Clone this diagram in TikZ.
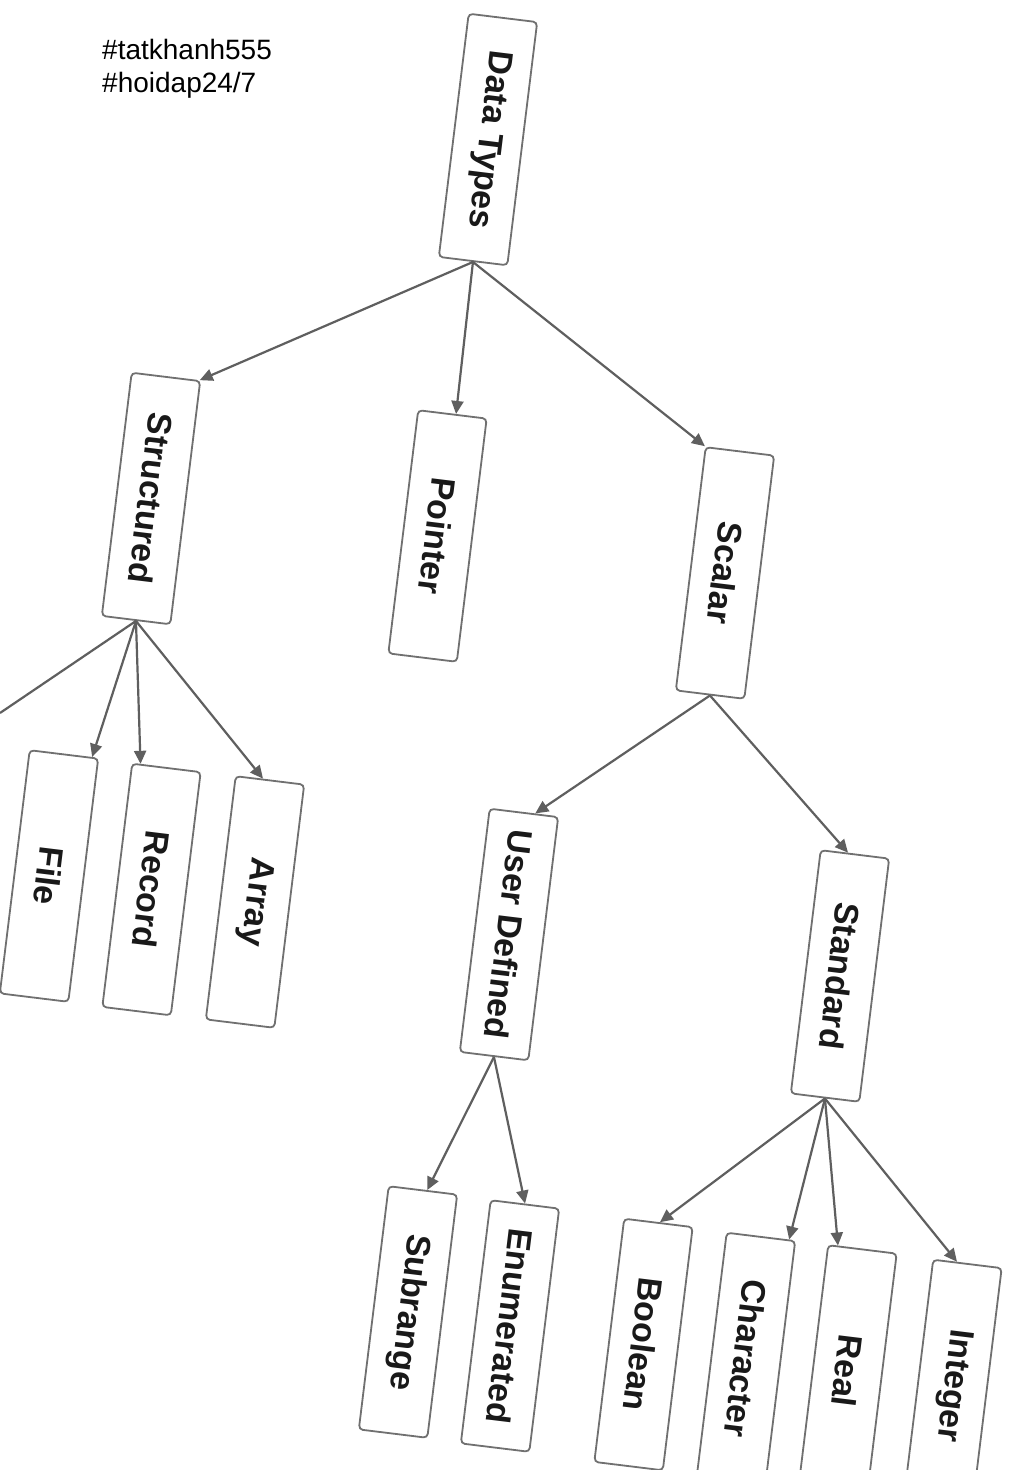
\documentclass[tikz,border=0pt]{standalone}
\usepackage{fontspec}
\setmainfont{Liberation Sans}
\usetikzlibrary{arrows.meta,calc}
\definecolor{boxgray}{RGB}{112,112,112}
\definecolor{linkgray}{RGB}{95,95,95}
\definecolor{txt}{RGB}{25,25,25}
\begin{document}
\begin{tikzpicture}[x=1pt,y=-1pt,
  box/.style={draw=boxgray, line width=1.8pt, rounded corners=4pt, fill=white,
    rotate=-97, minimum width=245pt, minimum height=69pt, inner sep=0pt,
    font=\fontsize{34}{40}\selectfont\bfseries, text=txt},
  link/.style={draw=linkgray, line width=2.2pt, -{Triangle[length=13pt,width=12pt]}},
  plain/.style={draw=linkgray, line width=2.2pt},
  tag/.style={anchor=base west, inner sep=0pt, font=\fontsize{28}{34}\selectfont, text=black}]
\useasboundingbox (0,0) rectangle (1024,1470);
\fill[white] (0,0) rectangle (1024,1470);
\clip (0,0) rectangle (1024,1470);

\node[tag] (tag1) at (102,59) {\#tatkhanh555};
\node[tag] (tag2) at (102,92) {\#hoidap24/7};

\node[box] (dt) at (488,139.5) {Data Types};
\node[box] (st) at (151,498.5) {Structured};
\node[box] (pt) at (437.5,536) {Pointer};
\node[box] (sc) at (725,573) {Scalar};
\node[box] (fi) at (49,876) {File};
\node[box] (re) at (151.5,889.5) {Record};
\node[box] (ar) at (255,902) {Array};
\node[box] (ud) at (509,934.5) {User Defined};
\node[box] (sd) at (840,976) {Standard};
\node[box] (sr) at (408,1312) {Subrange};
\node[box] (en) at (510,1326) {Enumerated};
\node[box] (bo) at (643.5,1344.5) {Boolean};
\node[box] (ch) at (746,1358.5) {Character};
\node[box] (rl) at (847.5,1371) {Real};
\node[box] (in) at (952.5,1385.5) {Integer};

\coordinate (offl) at (0,713);

\draw[link] (dt.east) -- ($(st.south west)!0.98!(st.north west)$);
\draw[link] (dt.east) -- ($(pt.south west)!0.55!(pt.north west)$);
\draw[link] (dt.east) -- ($(sc.south west)!0.0!(sc.north west)$);

\draw[plain] (st.east) -- (offl);
\draw[link] (st.east) -- ($(fi.south west)!0.9!(fi.north west)$);
\draw[link] (st.east) -- ($(re.south west)!0.13!(re.north west)$);
\draw[link] (st.east) -- ($(ar.south west)!0.4!(ar.north west)$);

\draw[link] (sc.east) -- ($(ud.south west)!0.66!(ud.north west)$);
\draw[link] (sc.east) -- ($(sd.south west)!0.4!(sd.north west)$);

\draw[link] (ud.east) -- ($(sr.south west)!0.56!(sr.north west)$);
\draw[link] (ud.east) -- ($(en.south west)!0.5!(en.north west)$);

\draw[link] (sd.east) -- ($(bo.south west)!0.52!(bo.north west)$);
\draw[link] (sd.east) -- ($(ch.south west)!0.9!(ch.north west)$);
\draw[link] (sd.east) -- ($(rl.south west)!0.15!(rl.north west)$);
\draw[link] (sd.east) -- ($(in.south west)!0.35!(in.north west)$);
\end{tikzpicture}
\end{document}
